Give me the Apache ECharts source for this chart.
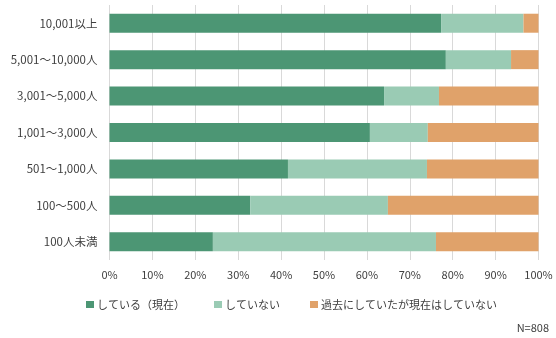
<!DOCTYPE html>
<html><head><meta charset="utf-8">
<script src="https://cdn.jsdelivr.net/npm/echarts@6/dist/echarts.min.js"></script>
<style>html,body{margin:0;padding:0;background:#fff}#c{width:556px;height:338px}</style>
</head><body><div id="c"></div>
<script>
const categories = ['10,001以上','5,001～10,000人','3,001～5,000人','1,001～3,000人','501～1,000人','100～500人','100人未満'];
const seriesNames = ['している（現在）','していない','過去にしていたが現在はしていない'];
const doing = [77.3, 78.4, 64.0, 60.7, 41.6, 32.8, 24.1];
const notDoing = [19.2, 15.2, 12.8, 13.5, 32.4, 32.1, 52.0];
const pastDoing = [3.5, 6.4, 23.2, 25.8, 26.0, 35.1, 23.9];
const xTicks = [0,10,20,30,40,50,60,70,80,90,100];
const note = 'N=808';

const colors = ['#4C9674','#9ACBB4','#E0A26A'];
const font = '"Noto Sans CJK JP", sans-serif';
const chart = echarts.init(document.getElementById('c'), null, {renderer:'canvas'});
const vals = [doing, notDoing, pastDoing];
const legendLefts = [86, 214, 310];
chart.setOption({
  animation:false,
  textStyle:{fontFamily:font},
  grid:{left:109.5, right:17.5, top:5, height:255, containLabel:false},
  xAxis:{type:'value', min:0, max:100, interval:10,
    axisLabel:{formatter:v=>v+'%', color:'#404040', fontSize:11, margin:9, fontFamily:font},
    splitLine:{lineStyle:{color:'#D9D9D9', width:1}},
    axisLine:{show:false}, axisTick:{show:false}},
  yAxis:{type:'category', data:categories, inverse:true,
    axisLabel:{color:'#404040', fontSize:11.5, margin:12, fontFamily:font},
    axisLine:{show:false}, axisTick:{show:false}},
  legend: seriesNames.map((n,i)=>({data:[n], left:legendLefts[i], top:299, padding:0, itemWidth:8, itemHeight:7, icon:'rect', itemGap:0,
    textStyle:{color:'#404040', fontSize:11, fontFamily:font, padding:[0,0,0,-2]}})),
  graphic:[{type:'text', right:7, top:322, style:{text:note, fill:'#404040', font:'11px '+font}}],
  series: seriesNames.map((n,i)=>({name:n, type:'bar', stack:'a', data:vals[i], barWidth:19,
    itemStyle:{color:colors[i]}}))
});
</script></body></html>
